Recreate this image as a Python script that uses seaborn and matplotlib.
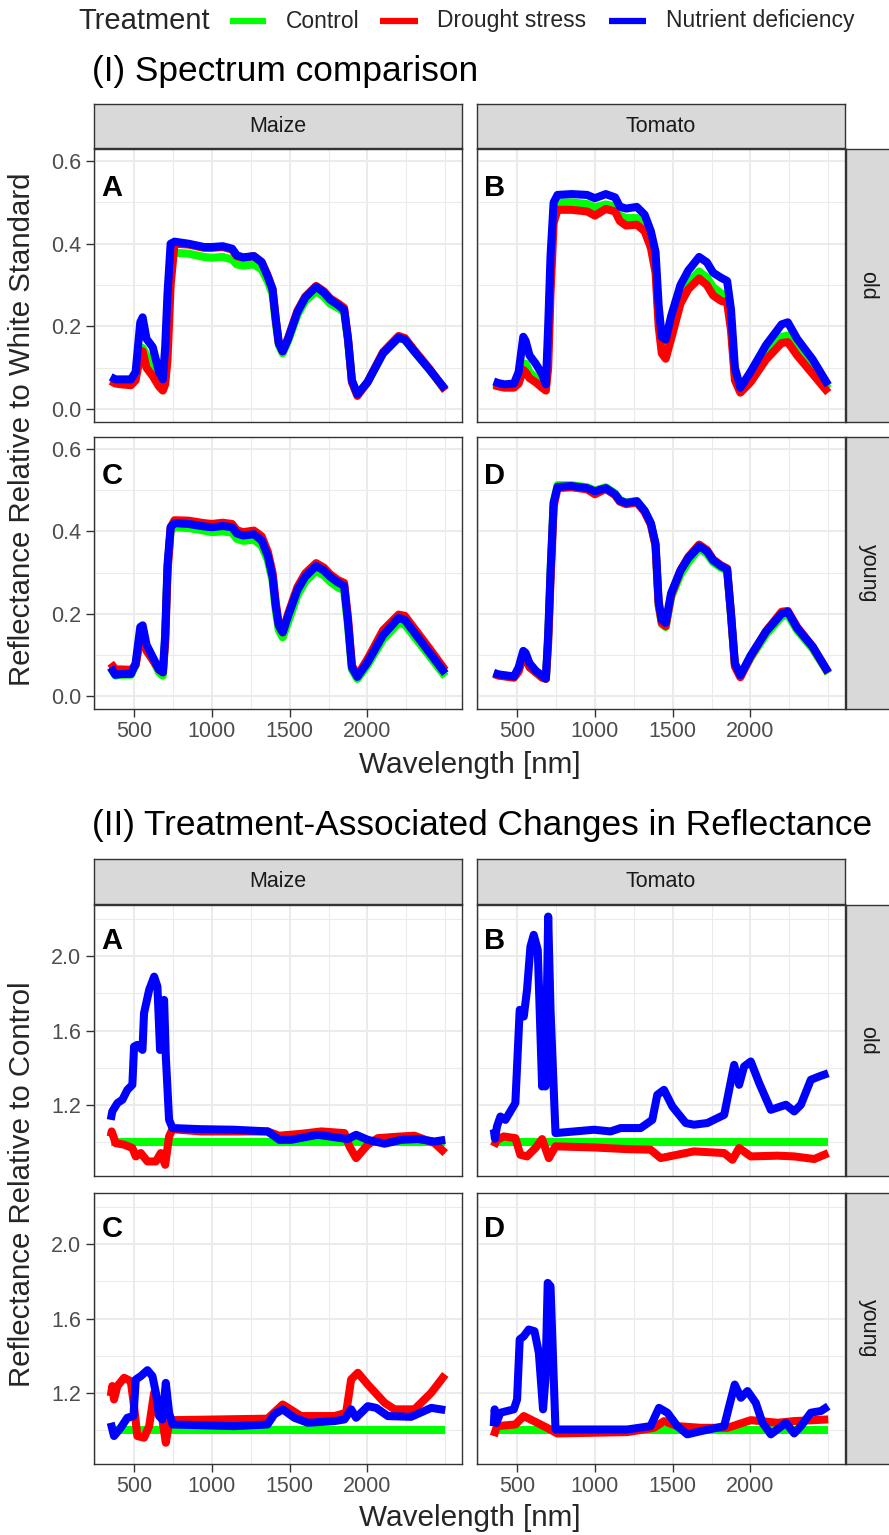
import numpy as np
import pandas as pd
import matplotlib
matplotlib.use("Agg")
import matplotlib.pyplot as plt
from matplotlib.lines import Line2D
from matplotlib.ticker import FixedLocator, FormatStrFormatter
import seaborn as sns

sns.set_theme(style="white")
plt.rcParams['font.family'] = ['Liberation Sans', 'DejaVu Sans']

W, H = 889, 1535

TREATMENTS = ["Control", "Drought stress", "Nutrient deficiency"]
COLORS = ["#00FF00", "#FF0000", "#0000FF"]
PLANTS = ["Maize", "Tomato"]
AGES = ["old", "young"]
LETTERS = ["A", "B", "C", "D"]
X_TICKS = [500, 1000, 1500, 2000]
X_MINOR = [250, 750, 1250, 1750, 2250, 2500]
Y1_TICKS = [0.0, 0.2, 0.4, 0.6]
Y1_MINOR = [0.1, 0.3, 0.5]
Y2_TICKS = [1.2, 1.6, 2.0]
Y2_MINOR = [1.0, 1.4, 1.8, 2.2]

# ---------------- (I) spectra ----------------
WL_SPEC = [350, 380, 420, 480, 510, 540, 555, 580, 620, 660, 685, 700, 715, 735, 760,
           850, 950, 1000, 1070, 1130, 1160, 1200, 1270, 1320, 1360, 1390, 1410, 1430,
           1455, 1490, 1550, 1600, 1670, 1720, 1760, 1810, 1850, 1875, 1900, 1935,
           2000, 2100, 2200, 2240, 2300, 2400, 2500]

MAIZE_OLD_ND = [0.078, 0.072, 0.072, 0.072, 0.09, 0.21, 0.222, 0.17, 0.15, 0.09,
                0.072, 0.15, 0.28, 0.40, 0.405, 0.400, 0.392, 0.392, 0.394, 0.388,
                0.372, 0.367, 0.370, 0.355, 0.320, 0.290, 0.220, 0.160, 0.140, 0.170,
                0.235, 0.270, 0.296, 0.282, 0.265, 0.252, 0.240, 0.170, 0.070, 0.036,
                0.065, 0.135, 0.173, 0.168, 0.140, 0.095, 0.048]
MAIZE_OLD_CTRL = [0.072, 0.068, 0.066, 0.066, 0.08, 0.14, 0.148, 0.13, 0.115, 0.075,
                  0.06, 0.1, 0.22, 0.35, 0.378, 0.376, 0.368, 0.366, 0.368, 0.362,
                  0.350, 0.347, 0.350, 0.338, 0.308, 0.278, 0.210, 0.155, 0.135, 0.165,
                  0.228, 0.262, 0.285, 0.272, 0.255, 0.245, 0.235, 0.165, 0.068, 0.035,
                  0.065, 0.135, 0.173, 0.168, 0.140, 0.095, 0.046]
MAIZE_OLD_DS = [0.068, 0.062, 0.060, 0.058, 0.07, 0.13, 0.14, 0.1, 0.08, 0.055,
                0.045, 0.06, 0.12, 0.30, 0.40, 0.398, 0.390, 0.390, 0.392, 0.386,
                0.370, 0.366, 0.370, 0.356, 0.322, 0.290, 0.220, 0.160, 0.140, 0.172,
                0.238, 0.272, 0.298, 0.285, 0.268, 0.256, 0.245, 0.170, 0.065, 0.032,
                0.065, 0.138, 0.177, 0.172, 0.143, 0.097, 0.045]

TOMATO_OLD_ND = [0.067, 0.063, 0.060, 0.062, 0.09, 0.175, 0.165, 0.13, 0.11, 0.085,
                 0.06, 0.2, 0.37, 0.50, 0.518, 0.520, 0.518, 0.510, 0.520, 0.512,
                 0.490, 0.485, 0.489, 0.470, 0.430, 0.380, 0.250, 0.175, 0.168, 0.225,
                 0.300, 0.335, 0.368, 0.355, 0.330, 0.318, 0.310, 0.240, 0.100, 0.052,
                 0.090, 0.155, 0.205, 0.210, 0.170, 0.120, 0.058]
TOMATO_OLD_CTRL = [0.062, 0.058, 0.055, 0.055, 0.07, 0.11, 0.11, 0.09, 0.075, 0.06,
                   0.05, 0.15, 0.33, 0.48, 0.50, 0.500, 0.496, 0.488, 0.495, 0.490,
                   0.468, 0.462, 0.462, 0.445, 0.405, 0.350, 0.220, 0.150, 0.142, 0.190,
                   0.270, 0.305, 0.333, 0.318, 0.295, 0.280, 0.275, 0.210, 0.080, 0.045,
                   0.075, 0.135, 0.175, 0.178, 0.145, 0.100, 0.050]
TOMATO_OLD_DS = [0.058, 0.055, 0.052, 0.052, 0.062, 0.095, 0.09, 0.075, 0.065, 0.052,
                 0.045, 0.1, 0.28, 0.45, 0.482, 0.482, 0.478, 0.468, 0.484, 0.478,
                 0.455, 0.444, 0.446, 0.430, 0.390, 0.330, 0.200, 0.135, 0.122, 0.170,
                 0.255, 0.290, 0.316, 0.300, 0.275, 0.262, 0.258, 0.190, 0.070, 0.040,
                 0.065, 0.120, 0.160, 0.162, 0.130, 0.085, 0.040]

MAIZE_YOUNG_ND = [0.070, 0.052, 0.054, 0.054, 0.08, 0.168, 0.172, 0.125, 0.095, 0.065,
                  0.058, 0.15, 0.32, 0.41, 0.42, 0.418, 0.412, 0.410, 0.413, 0.410,
                  0.395, 0.390, 0.393, 0.378, 0.340, 0.290, 0.220, 0.172, 0.155, 0.195,
                  0.258, 0.290, 0.316, 0.305, 0.290, 0.276, 0.268, 0.180, 0.070, 0.047,
                  0.082, 0.148, 0.190, 0.185, 0.155, 0.105, 0.055]
MAIZE_YOUNG_CTRL = [0.068, 0.050, 0.052, 0.052, 0.075, 0.155, 0.16, 0.115, 0.09, 0.058,
                    0.05, 0.14, 0.31, 0.40, 0.41, 0.408, 0.402, 0.398, 0.400, 0.397,
                    0.382, 0.377, 0.380, 0.365, 0.330, 0.280, 0.210, 0.160, 0.143, 0.180,
                    0.245, 0.278, 0.304, 0.293, 0.278, 0.264, 0.257, 0.170, 0.065, 0.042,
                    0.075, 0.138, 0.178, 0.174, 0.145, 0.097, 0.048]
MAIZE_YOUNG_DS = [0.080, 0.065, 0.065, 0.064, 0.075, 0.14, 0.145, 0.11, 0.088, 0.065,
                  0.058, 0.13, 0.30, 0.41, 0.427, 0.426, 0.420, 0.418, 0.421, 0.418,
                  0.403, 0.398, 0.402, 0.388, 0.350, 0.300, 0.230, 0.175, 0.155, 0.200,
                  0.265, 0.298, 0.323, 0.312, 0.296, 0.282, 0.275, 0.190, 0.075, 0.050,
                  0.090, 0.160, 0.198, 0.195, 0.165, 0.115, 0.063]

TOMATO_YOUNG_ND = [0.057, 0.053, 0.051, 0.048, 0.07, 0.11, 0.105, 0.08, 0.062, 0.05,
                   0.043, 0.15, 0.30, 0.47, 0.508, 0.510, 0.505, 0.497, 0.505, 0.490,
                   0.475, 0.469, 0.473, 0.450, 0.420, 0.370, 0.230, 0.185, 0.178, 0.250,
                   0.305, 0.335, 0.364, 0.352, 0.330, 0.316, 0.308, 0.200, 0.080, 0.051,
                   0.098, 0.157, 0.200, 0.205, 0.165, 0.120, 0.058]
TOMATO_YOUNG_CTRL = [0.055, 0.051, 0.049, 0.046, 0.062, 0.095, 0.092, 0.072, 0.058, 0.047,
                     0.042, 0.14, 0.30, 0.47, 0.512, 0.512, 0.507, 0.499, 0.507, 0.492,
                     0.476, 0.470, 0.474, 0.450, 0.418, 0.365, 0.220, 0.175, 0.168, 0.240,
                     0.295, 0.325, 0.358, 0.346, 0.325, 0.312, 0.305, 0.195, 0.075, 0.048,
                     0.092, 0.150, 0.193, 0.198, 0.160, 0.115, 0.055]
TOMATO_YOUNG_DS = [0.054, 0.050, 0.048, 0.045, 0.06, 0.10, 0.095, 0.07, 0.058, 0.045,
                   0.042, 0.13, 0.28, 0.46, 0.505, 0.507, 0.502, 0.490, 0.503, 0.488,
                   0.472, 0.466, 0.470, 0.447, 0.416, 0.365, 0.222, 0.178, 0.170, 0.245,
                   0.305, 0.338, 0.368, 0.355, 0.332, 0.318, 0.310, 0.198, 0.072, 0.046,
                   0.095, 0.158, 0.205, 0.207, 0.168, 0.120, 0.057]

# ---------------- (II) ratios relative to control ----------------
WL_CTRL = [350, 1000, 1500, 2000, 2500]
RATIO_CTRL = [1.0, 1.0, 1.0, 1.0, 1.0]

WL_MO_ND = [350, 360, 393, 425, 457, 489, 500, 521, 554, 564, 597, 629, 650, 667, 678,
            693, 704, 725, 747, 929, 1144, 1358, 1433, 1509, 1680, 1873, 1927, 2002,
            2110, 2217, 2324, 2431, 2500]
R_MO_ND = [1.121, 1.166, 1.211, 1.229, 1.282, 1.309, 1.514, 1.523, 1.496, 1.693, 1.818,
           1.889, 1.836, 1.496, 1.729, 1.764, 1.461, 1.121, 1.077, 1.071, 1.068, 1.059,
           1.014, 1.014, 1.041, 1.018, 1.041, 1.014, 0.993, 1.014, 1.018, 1.005, 1.014]
WL_MO_DS = [350, 356, 382, 436, 489, 511, 543, 586, 640, 672, 700, 725, 747, 929, 1144,
            1358, 1433, 1573, 1702, 1852, 1884, 1927, 2002, 2067, 2217, 2302, 2431, 2500]
R_MO_DS = [1.032, 1.059, 0.996, 0.988, 0.970, 0.925, 0.943, 0.898, 0.898, 0.943, 0.880,
           1.032, 1.071, 1.059, 1.059, 1.059, 1.036, 1.046, 1.059, 1.050, 0.979, 0.916,
           0.988, 1.023, 1.032, 1.036, 0.996, 0.943]

WL_TO_ND = [350, 358, 371, 393, 425, 457, 489, 517, 543, 564, 586, 607, 633, 661, 672,
            682, 700, 715, 747, 994, 1101, 1165, 1294, 1369, 1401, 1444, 1498, 1584,
            1637, 1723, 1831, 1863, 1895, 1927, 1959, 2002, 2056, 2131, 2228, 2281,
            2324, 2388, 2442, 2500]
R_TO_ND = [1.070, 1.020, 1.086, 1.139, 1.121, 1.166, 1.211, 1.711, 1.675, 1.818, 2.050,
           2.113, 2.032, 1.300, 1.675, 1.300, 2.211, 1.711, 1.050, 1.068, 1.059, 1.077,
           1.077, 1.121, 1.255, 1.282, 1.193, 1.104, 1.095, 1.104, 1.148, 1.282, 1.416,
           1.309, 1.407, 1.434, 1.318, 1.175, 1.202, 1.166, 1.202, 1.336, 1.354, 1.371]
WL_TO_DS = [350, 371, 414, 489, 521, 564, 618, 661, 704, 747, 994, 1208, 1358, 1423,
            1530, 1637, 1831, 1884, 1927, 2002, 2174, 2281, 2410, 2500]
R_TO_DS = [0.979, 1.014, 1.032, 1.023, 0.934, 0.925, 0.970, 1.018, 0.916, 0.979, 0.973,
           0.964, 0.961, 0.916, 0.934, 0.952, 0.943, 0.907, 0.970, 0.925, 0.929, 0.925,
           0.911, 0.943]

WL_MY_ND = [350, 371, 414, 457, 496, 511, 543, 586, 618, 640, 661, 682, 704, 725, 747,
            1144, 1358, 1401, 1455, 1530, 1616, 1788, 1852, 1895, 1927, 2002, 2056,
            2131, 2281, 2410, 2500]
R_MY_ND = [1.041, 0.970, 1.014, 1.068, 1.077, 1.273, 1.291, 1.323, 1.291, 1.202, 1.077,
           1.059, 1.255, 1.095, 1.032, 1.023, 1.032, 1.086, 1.113, 1.068, 1.041, 1.050,
           1.059, 1.113, 1.068, 1.130, 1.121, 1.077, 1.073, 1.121, 1.109]
WL_MY_DS = [350, 360, 371, 393, 436, 479, 500, 521, 564, 597, 629, 650, 682, 704, 725,
            747, 1358, 1455, 1573, 1788, 1863, 1895, 1938, 2002, 2110, 2174, 2302, 2410,
            2500]
R_MY_DS = [1.184, 1.238, 1.166, 1.238, 1.282, 1.264, 1.130, 0.970, 0.961, 1.023, 1.202,
           1.095, 1.059, 0.934, 1.041, 1.055, 1.063, 1.139, 1.077, 1.077, 1.095, 1.273,
           1.309, 1.246, 1.148, 1.113, 1.113, 1.202, 1.300]

WL_TY_ND = [350, 356, 367, 393, 479, 500, 517, 543, 575, 612, 640, 667, 682, 697, 715,
            747, 1208, 1358, 1412, 1466, 1530, 1594, 1680, 1831, 1863, 1899, 1938, 1981,
            2034, 2077, 2131, 2228, 2281, 2324, 2388, 2453, 2500]
R_TY_ND = [1.023, 1.113, 1.041, 1.095, 1.113, 1.166, 1.488, 1.505, 1.541, 1.532, 1.416,
           1.113, 1.273, 1.791, 1.773, 1.005, 1.005, 1.023, 1.121, 1.095, 1.023, 0.979,
           0.996, 1.023, 1.130, 1.246, 1.175, 1.211, 1.148, 1.041, 0.979, 1.041, 0.984,
           1.023, 1.095, 1.104, 1.130]
WL_TY_DS = [350, 371, 489, 543, 629, 693, 758, 1208, 1380, 1444, 1530, 1680, 1852, 2002,
            2174, 2281, 2500]
R_TY_DS = [0.970, 1.023, 1.032, 1.077, 1.041, 1.014, 0.984, 0.991, 1.014, 1.050, 1.023,
           1.014, 1.014, 1.055, 1.041, 1.050, 1.059]

SPEC_PANELS = [
    (MAIZE_OLD_CTRL, MAIZE_OLD_DS, MAIZE_OLD_ND),
    (TOMATO_OLD_CTRL, TOMATO_OLD_DS, TOMATO_OLD_ND),
    (MAIZE_YOUNG_CTRL, MAIZE_YOUNG_DS, MAIZE_YOUNG_ND),
    (TOMATO_YOUNG_CTRL, TOMATO_YOUNG_DS, TOMATO_YOUNG_ND),
]
RATIO_PANELS = [
    ((WL_CTRL, RATIO_CTRL), (WL_MO_DS, R_MO_DS), (WL_MO_ND, R_MO_ND)),
    ((WL_CTRL, RATIO_CTRL), (WL_TO_DS, R_TO_DS), (WL_TO_ND, R_TO_ND)),
    ((WL_CTRL, RATIO_CTRL), (WL_MY_DS, R_MY_DS), (WL_MY_ND, R_MY_ND)),
    ((WL_CTRL, RATIO_CTRL), (WL_TY_DS, R_TY_DS), (WL_TY_ND, R_TY_ND)),
]

PAL = dict(zip(TREATMENTS, COLORS))
BORDER = "#333333"
GRID = "#EBEBEB"

fig = plt.figure(figsize=(W / 100, H / 100), dpi=100)


def px_axes(x0, y0, x1, y1):
    return fig.add_axes([x0 / W, 1 - y1 / H, (x1 - x0) / W, (y1 - y0) / H])


def strip(x0, y0, x1, y1, label, rot=0):
    s = px_axes(x0, y0, x1, y1)
    s.set_facecolor("#D9D9D9")
    s.set_xticks([]); s.set_yticks([])
    for sp in s.spines.values():
        sp.set_color(BORDER); sp.set_linewidth(1.0)
    s.text(0.5, 0.5, label, transform=s.transAxes, ha="center", va="center",
           fontsize=15.5, color="#1A1A1A", rotation=rot)


def style_panel(ax, ylim, yt, ym, left, bottom):
    ax.set_xlim(242.5, 2607.5)
    ax.set_ylim(*ylim)
    ax.xaxis.set_major_locator(FixedLocator(X_TICKS))
    ax.xaxis.set_minor_locator(FixedLocator(X_MINOR))
    ax.yaxis.set_major_locator(FixedLocator(yt))
    ax.yaxis.set_minor_locator(FixedLocator(ym))
    ax.yaxis.set_major_formatter(FormatStrFormatter("%.1f"))
    ax.grid(which="major", color=GRID, linewidth=1.5)
    ax.grid(which="minor", color=GRID, linewidth=0.75)
    ax.set_axisbelow(True)
    ax.set_facecolor("white")
    for sp in ax.spines.values():
        sp.set_color(BORDER); sp.set_linewidth(1.0)
    ax.tick_params(which="minor", length=0)
    ax.tick_params(which="major", length=5.5, width=1.0, color=BORDER,
                   labelsize=15.5, labelcolor="#4D4D4D", pad=3.5,
                   left=left, labelleft=left, bottom=bottom, labelbottom=bottom)
    ax.set_xlabel(""); ax.set_ylabel("")


def draw_lines(ax, series):
    frames = []
    for t, (wl, v) in zip(TREATMENTS, series):
        frames.append(pd.DataFrame({"Wavelength": wl, "Value": v, "Treatment": t}))
    df = pd.concat(frames, ignore_index=True)
    sns.lineplot(data=df, x="Wavelength", y="Value", hue="Treatment",
                 hue_order=TREATMENTS, palette=PAL, linewidth=5.8, legend=False,
                 errorbar=None, estimator=None, ax=ax)
    for ln in ax.lines:
        ln.set_solid_joinstyle("round")
        ln.set_solid_capstyle("butt")


# panel boxes (pixels)
COLS = [(94, 462), (477, 845)]
ROWS_I = [(149, 422), (437, 709)]
ROWS_II = [(905, 1176), (1193, 1464)]


def section(rows, strip_top, panels_series, ylim, yt, ym, letter_y):
    for c, (x0, x1) in enumerate(COLS):
        strip(x0, strip_top, x1, rows[0][0] - 1, PLANTS[c])
    for r, (y0, y1) in enumerate(rows):
        strip(COLS[1][1] + 1, y0, 890, y1, AGES[r], rot=-90)
        for c, (x0, x1) in enumerate(COLS):
            idx = r * 2 + c
            ax = px_axes(x0, y0, x1, y1)
            draw_lines(ax, panels_series[idx])
            style_panel(ax, ylim, yt, ym, left=(c == 0), bottom=(r == 1))
            ax.text(357, letter_y, LETTERS[idx], ha="center", va="center",
                    fontsize=21, fontweight="bold", color="black")


spec_series = [[(WL_SPEC, s) for s in p] for p in SPEC_PANELS]
section(ROWS_I, 104, spec_series, (-0.031, 0.629), Y1_TICKS, Y1_MINOR, 0.535)
section(ROWS_II, 859, RATIO_PANELS, (0.82, 2.273), Y2_TICKS, Y2_MINOR, 2.078)

# titles
fig.text(92 / W, 1 - 71 / H, "(I) Spectrum comparison", fontsize=25.4,
         ha="left", va="center", color="black")
fig.text(92 / W, 1 - 825 / H, "(II) Treatment-Associated Changes in Reflectance",
         fontsize=25.4, ha="left", va="center", color="black")

# axis titles
fig.text(469.5 / W, 1 - 765 / H, "Wavelength [nm]", fontsize=21.4, ha="center", va="center")
fig.text(469.5 / W, 1 - 1518 / H, "Wavelength [nm]", fontsize=21.4, ha="center", va="center")
fig.text(22 / W, 1 - 429 / H, "Reflectance Relative to White Standard", fontsize=21.2,
         ha="center", va="center", rotation=90)
fig.text(22 / W, 1 - 1184.5 / H, "Reflectance Relative to Control", fontsize=21.2,
         ha="center", va="center", rotation=90)

# legend
fig.text(78 / W, 1 - 21 / H, "Treatment", fontsize=21, ha="left", va="center")
KEY_X = [(230, 266), (380, 418), (609, 646)]
LAB_X = [286, 437, 666]
for (k0, k1), lx, t, col in zip(KEY_X, LAB_X, TREATMENTS, COLORS):
    fig.add_artist(Line2D([k0 / W, k1 / W], [1 - 21 / H, 1 - 21 / H], color=col,
                          linewidth=4.5, solid_capstyle="butt"))
    fig.text(lx / W, 1 - 21 / H, t, fontsize=16.5, ha="left", va="center")

fig.savefig("out.png", dpi=100, facecolor="white")
